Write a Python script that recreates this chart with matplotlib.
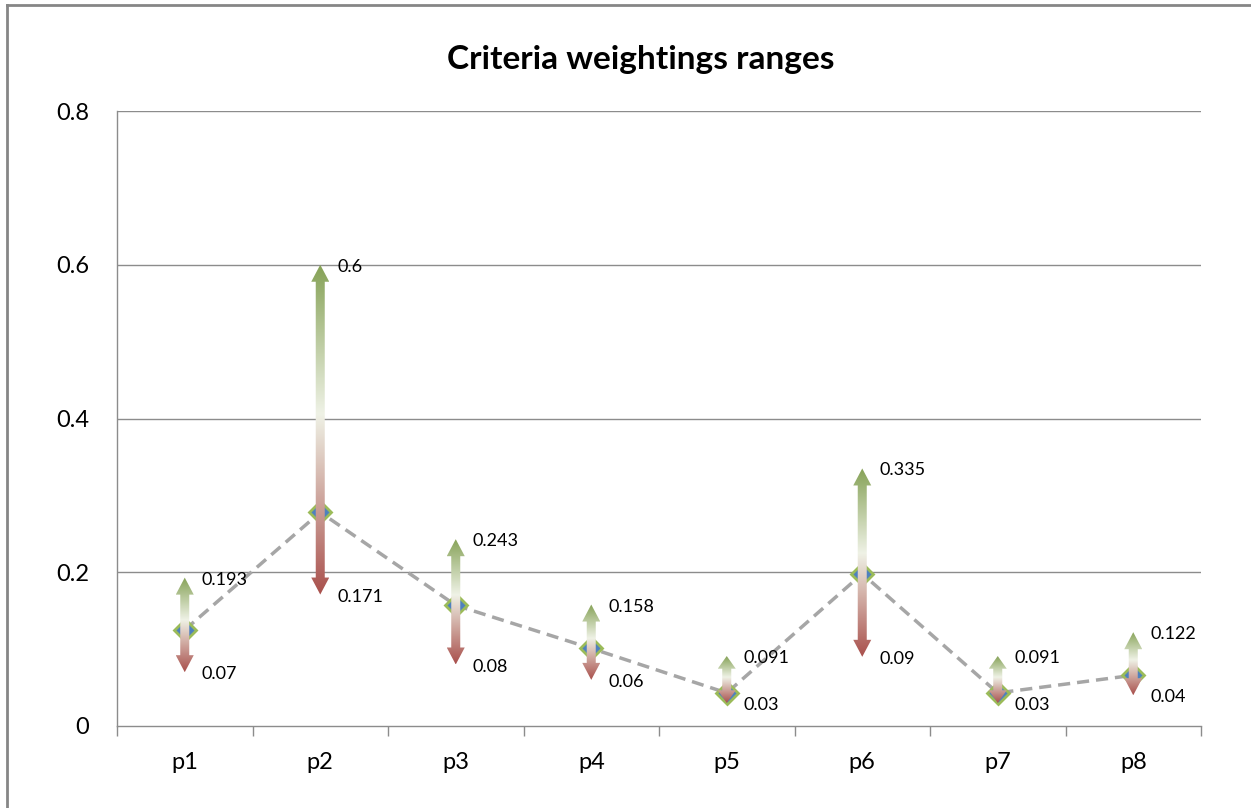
import matplotlib
matplotlib.use("Agg")
import matplotlib.pyplot as plt
import numpy as np
from matplotlib.colors import LinearSegmentedColormap
from matplotlib.patches import PathPatch
from matplotlib.path import Path
from matplotlib.lines import Line2D

plt.rcParams['font.family'] = ['Lato', 'DejaVu Sans']

# Criteria and their weighting ranges
criteria = ["p1", "p2", "p3", "p4", "p5", "p6", "p7", "p8"]
weight_mid = [0.125, 0.278, 0.157, 0.101, 0.043, 0.198, 0.043, 0.066]
weight_max = [0.193, 0.6, 0.243, 0.158, 0.091, 0.335, 0.091, 0.122]
weight_min = [0.07, 0.171, 0.08, 0.06, 0.03, 0.09, 0.03, 0.04]
y_ticks = [0, 0.2, 0.4, 0.6, 0.8]
y_tick_labels = ["0", "0.2", "0.4", "0.6", "0.8"]

W, H = 1251, 808
fig = plt.figure(figsize=(W / 100, H / 100), dpi=100)
ax_l, ax_r, ax_t, ax_b = 117, 1201, 111, 726
ax = fig.add_axes([ax_l / W, 1 - ax_b / H, (ax_r - ax_l) / W, (ax_b - ax_t) / H])

n = len(criteria)
xlim = (-0.5, n - 0.5)
ylim = (0, 0.8)
ax.set_xlim(*xlim)
ax.set_ylim(*ylim)

# pixel -> data unit conversion for arrow geometry
px_x = (xlim[1] - xlim[0]) / (ax_r - ax_l)
px_y = (ylim[1] - ylim[0]) / (ax_b - ax_t)

grid_col = "#8c8c8c"
for yv in y_ticks[1:]:
    ax.axhline(yv, color=grid_col, lw=1.0, zorder=0)

for s in ["top", "right"]:
    ax.spines[s].set_visible(False)
for s in ["left", "bottom"]:
    ax.spines[s].set_color(grid_col)
    ax.spines[s].set_linewidth(1.0)

ax.set_yticks(y_ticks)
ax.set_yticklabels(y_tick_labels, fontsize=17)
ax.tick_params(axis="y", length=0, pad=20)

ax.set_xticks(np.arange(n))
ax.set_xticklabels(criteria, fontsize=17)
ax.tick_params(axis="x", length=0, pad=19)
ax.set_xticks(np.arange(n + 1) - 0.5, minor=True)
ax.tick_params(axis="x", which="minor", length=7, color=grid_col, width=1.0)

# dashed line through central weights
xs = np.arange(n)
ax.plot(xs, weight_mid, color="#a6a6a6", lw=2.5, ls=(0, (3.5, 2.0)), zorder=2)
ax.plot(xs, weight_mid, ls="none", marker="D", markersize=11,
        markerfacecolor="#4f81bd", markeredgecolor="#9bbb59", markeredgewidth=2.0, zorder=3)

cmap = LinearSegmentedColormap.from_list(
    "range", [(0.0, "#a9504c"), (0.55, "#eff2e6"), (1.0, "#86a257")])

sw = 4.5 * px_x
hw = 9.0 * px_x
for i in range(n):
    top, bot = weight_max[i], weight_min[i]
    length_px = (top - bot) / px_y
    hl = min(17.0, 0.27 * length_px) * px_y
    x = xs[i]
    verts = [(x, top), (x + hw, top - hl), (x + sw, top - hl), (x + sw, bot + hl),
             (x + hw, bot + hl), (x, bot), (x - hw, bot + hl), (x - sw, bot + hl),
             (x - sw, top - hl), (x - hw, top - hl), (x, top)]
    codes = [Path.MOVETO] + [Path.LINETO] * (len(verts) - 2) + [Path.CLOSEPOLY]
    patch = PathPatch(Path(verts, codes), facecolor="none", edgecolor="none",
                      transform=ax.transData)
    ax.add_patch(patch)
    grad = np.linspace(0, 1, 256).reshape(-1, 1)
    im = ax.imshow(grad, cmap=cmap, origin="lower", aspect="auto",
                   extent=(x - hw, x + hw, bot, top), zorder=4, interpolation="bilinear")
    im.set_clip_path(patch)

    ax.annotate(f"{top:g}", xy=(x, top), xytext=(17, -2), textcoords="offset pixels",
                fontsize=13, va="center", ha="left", zorder=5)
    ax.annotate(f"{bot:g}", xy=(x, bot), xytext=(17, -2), textcoords="offset pixels",
                fontsize=13, va="center", ha="left", zorder=5)

ax.set_xlim(*xlim)
ax.set_ylim(*ylim)

fig.text(641 / W, 1 - 59 / H, "Criteria weightings ranges", fontsize=24,
         fontweight="bold", ha="center", va="center")

# chart frame
fig.add_artist(Line2D([7 / W, 7 / W], [0, 1 - 5 / H], color="#868686", lw=2.0,
                      transform=fig.transFigure))
fig.add_artist(Line2D([7 / W, 1], [1 - 5 / H, 1 - 5 / H], color="#868686", lw=2.0,
                      transform=fig.transFigure))

fig.savefig("out.png", dpi=100)
